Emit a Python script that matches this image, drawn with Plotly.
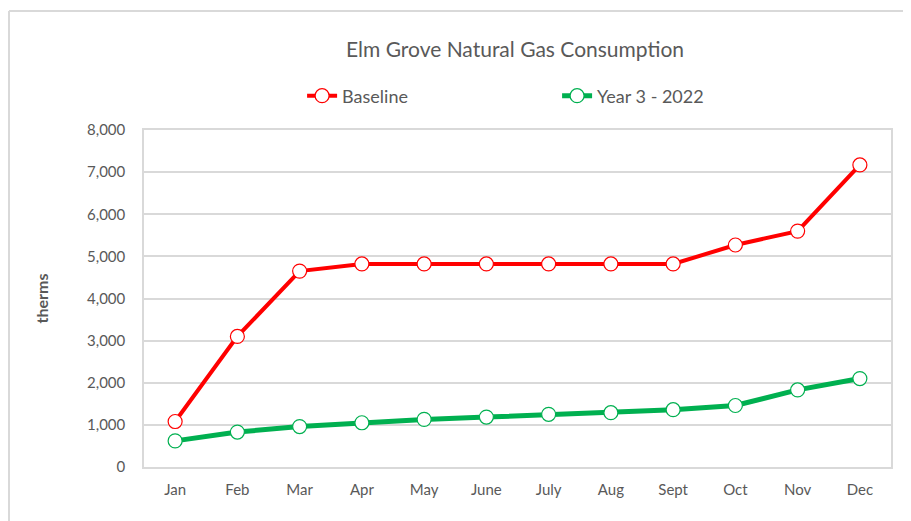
import plotly.graph_objects as go

months = ["Jan", "Feb", "Mar", "Apr", "May", "June", "July", "Aug", "Sept", "Oct", "Nov", "Dec"]
baseline = [1080, 3100, 4650, 4820, 4820, 4820, 4820, 4820, 4820, 5270, 5600, 7170]
year3 = [620, 830, 960, 1050, 1130, 1185, 1250, 1290, 1360, 1460, 1830, 2100]
y_ticks = [0, 1000, 2000, 3000, 4000, 5000, 6000, 7000, 8000]

font_family = "Lato, Open Sans, sans-serif"
grey = "#595959"
border = "#d9d9d9"

fig = go.Figure()
fig.add_trace(go.Scatter(
    x=months, y=baseline, name="Baseline", mode="lines+markers",
    line=dict(color="#ff0000", width=4),
    marker=dict(symbol="circle", size=14, color="white", line=dict(color="#ff0000", width=1.2)),
))
fig.add_trace(go.Scatter(
    x=months, y=year3, name="Year 3 - 2022", mode="lines+markers",
    line=dict(color="#00b050", width=5),
    marker=dict(symbol="circle", size=14, color="white", line=dict(color="#00b050", width=1.2)),
))

fig.update_layout(
    width=903, height=513,
    margin=dict(l=136, r=20, t=122, b=54, autoexpand=False),
    paper_bgcolor="white", plot_bgcolor="white",
    font=dict(family=font_family, color=grey, size=14),
    title=dict(text="Elm Grove Natural Gas Consumption", x=0.5615, xanchor="center",
               y=0.918, yanchor="middle", font=dict(size=21, color=grey, family=font_family)),
    legend=dict(orientation="h", x=0.553, xanchor="center", y=1.101, yanchor="middle",
                font=dict(size=18, color=grey), traceorder="normal",
                entrywidth=210),
    showlegend=True,
    xaxis=dict(type="category", showgrid=False, showline=True, linecolor=border,
               linewidth=1.5, mirror=True, ticks="", tickfont=dict(size=15, color=grey),
               ticklabelstandoff=8, range=[-0.5, 11.5]),
    yaxis=dict(range=[0, 8000], tickvals=y_ticks, tickformat=",", showgrid=True,
               gridcolor=border, gridwidth=1.5, showline=True, linecolor=border,
               linewidth=1.5, mirror=True, ticks="", ticklabelstandoff=14,
               tickfont=dict(size=15, color=grey), zeroline=False,
               title=dict(text="<b>therms</b>", font=dict(size=16, color=grey), standoff=34)),
    shapes=[
        dict(type="line", xref="paper", yref="paper", x0=-0.1807, x1=1.025, y0=1.353, y1=1.353,
             line=dict(color=border, width=2), layer="below"),
        dict(type="line", xref="paper", yref="paper", x0=-0.1807, x1=-0.1807, y0=-0.4, y1=1.353,
             line=dict(color=border, width=2), layer="below"),
    ],
)

fig.write_html("out.html")
